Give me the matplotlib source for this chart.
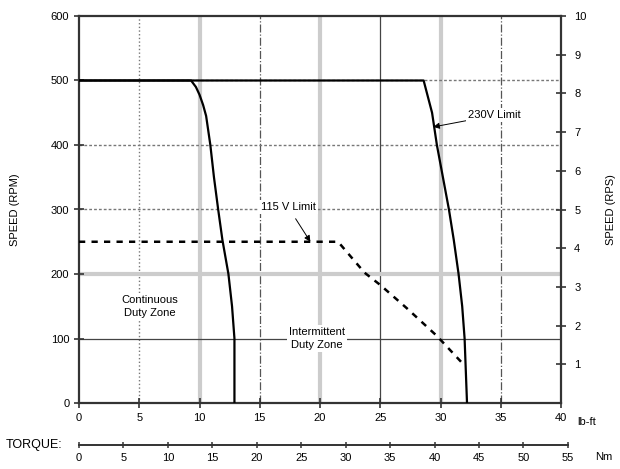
import numpy as np
import matplotlib
matplotlib.use("Agg")
import matplotlib.pyplot as plt

# Speed / torque curve data (torque in lb-ft, speed in RPM)
torque_230v = [0, 28.6, 29.3, 29.7, 30.7, 31.1, 31.5, 31.8, 32.0, 32.1, 32.2]
speed_230v = [500, 500, 450, 400, 300, 253, 200, 150, 100, 50, 0]

torque_cont = [0, 9.3, 9.7, 10.0, 10.3, 10.55, 10.9, 11.2, 11.55, 11.9, 12.4, 12.7, 12.9, 12.9]
speed_cont = [500, 500, 490, 478, 462, 445, 400, 350, 300, 253, 200, 150, 100, 0]

torque_115v = [0, 21.5, 23.7, 25.0, 27.2, 29.7, 32.0]
speed_115v = [250, 250, 202, 183, 147, 104, 58]

rpm_ticks = [0, 100, 200, 300, 400, 500, 600]
rps_ticks = [1, 2, 3, 4, 5, 6, 7, 8, 9, 10]
lbft_ticks = [0, 5, 10, 15, 20, 25, 30, 35, 40]
nm_ticks = [0, 5, 10, 15, 20, 25, 30, 35, 40, 45, 50, 55]
NM_PER_LBFT = 1.35582

plt.rcParams["font.family"] = ["Liberation Sans", "DejaVu Sans"]
plt.rcParams["font.size"] = 8

fig = plt.figure(figsize=(6.2, 4.69), dpi=100)
left, bottom, width, height = 79 / 620, 1 - 403 / 469, 482 / 620, 387 / 469
ax = fig.add_axes([left, bottom, width, height])
ax.set_xlim(0, 40)
ax.set_ylim(0, 600)

dark = "#333333"
light = "#cccccc"

# grid lines with their mixed styles
ax.axvline(5, color="#777777", lw=1, ls=":", zorder=1)
ax.axvline(15, color="#555555", lw=0.9, ls="-.", zorder=1)
ax.axvline(25, color="#444444", lw=0.9, ls="-", zorder=1)
ax.axvline(35, color="#555555", lw=0.9, ls="-.", zorder=1)
for xv in [10, 20, 30]:
    ax.axvline(xv, color=light, lw=3, zorder=1)
for yv in [300, 400, 500]:
    ax.axhline(yv, color="#777777", lw=1, ls=(0, (2, 1.5)), zorder=1)
ax.axhline(200, color=light, lw=3, zorder=1)
ax.axhline(100, color="#444444", lw=0.9, zorder=1)

# curves
ax.plot(torque_230v, speed_230v, color="black", lw=1.6, zorder=3)
ax.plot(torque_cont, speed_cont, color="black", lw=1.6, zorder=3)
ax.plot(torque_115v, speed_115v, color="black", lw=1.8, ls=(0, (2.5, 2.5)), zorder=3)

box = dict(facecolor="white", edgecolor="none", pad=1.5)
arrow = dict(arrowstyle="-|>", color="black", lw=0.7, mutation_scale=9,
             shrinkA=0, shrinkB=0)
ax.annotate("230V Limit", xy=(29.4, 428), xytext=(32.3, 446),
            ha="left", va="center", fontsize=8, bbox=box, zorder=4,
            arrowprops=arrow)
ax.annotate("115 V Limit", xy=(19.2, 250), xytext=(17.35, 304),
            ha="center", va="center", fontsize=8, bbox=box, zorder=4,
            arrowprops=dict(arrow, shrinkA=4))
ax.text(5.9, 149, "Continuous\nDuty Zone", ha="center", va="center",
        fontsize=8, bbox=box, zorder=4, linespacing=1.4)
ax.text(19.75, 100, "Intermittent\nDuty Zone", ha="center", va="center",
        fontsize=8, bbox=box, zorder=4, linespacing=1.4)

for sp in ax.spines.values():
    sp.set_color(dark)
    sp.set_linewidth(1.6)

ax.set_xticks(lbft_ticks)
ax.set_yticks(rpm_ticks)
ax.tick_params(direction="inout", length=7, width=1.2, color=dark, labelsize=8)
ax.set_ylabel("SPEED (RPM)", fontsize=8, labelpad=22)
ax.annotate("lb-ft", xy=(1, 0), xycoords="axes fraction", xytext=(12, -10),
            textcoords="offset points", ha="left", va="top", fontsize=8)

ax2 = ax.twinx()
ax2.set_ylim(0, 600 / 60)
ax2.set_yticks(rps_ticks)
ax2.tick_params(direction="inout", length=7, width=1.2, color=dark, labelsize=8, pad=6)
ax2.set_ylabel("SPEED (RPS)", fontsize=8, labelpad=14)
for sp in ax2.spines.values():
    sp.set_visible(False)

# second torque scale in Nm below the plot
nm_width = width * (55 / NM_PER_LBFT) / 40
ax3 = fig.add_axes([left, 1 - 445 / 469, nm_width, 0.0001])
ax3.set_xlim(0, 55)
ax3.set_yticks([])
for name in ["top", "left", "right"]:
    ax3.spines[name].set_visible(False)
ax3.spines["bottom"].set_color(dark)
ax3.spines["bottom"].set_linewidth(1.4)
ax3.set_xticks(nm_ticks)
ax3.tick_params(direction="inout", length=5, width=1.1, color=dark, labelsize=8)
ax3.patch.set_visible(False)
ax3.annotate("TORQUE:", xy=(0, 0), xycoords="axes fraction", xytext=(-12, 0),
             textcoords="offset points", ha="right", va="center", fontsize=9)
ax3.annotate("Nm", xy=(1, 0), xycoords="axes fraction", xytext=(20, -5),
             textcoords="offset points", ha="left", va="top", fontsize=8)

fig.savefig("out.png", dpi=100)
